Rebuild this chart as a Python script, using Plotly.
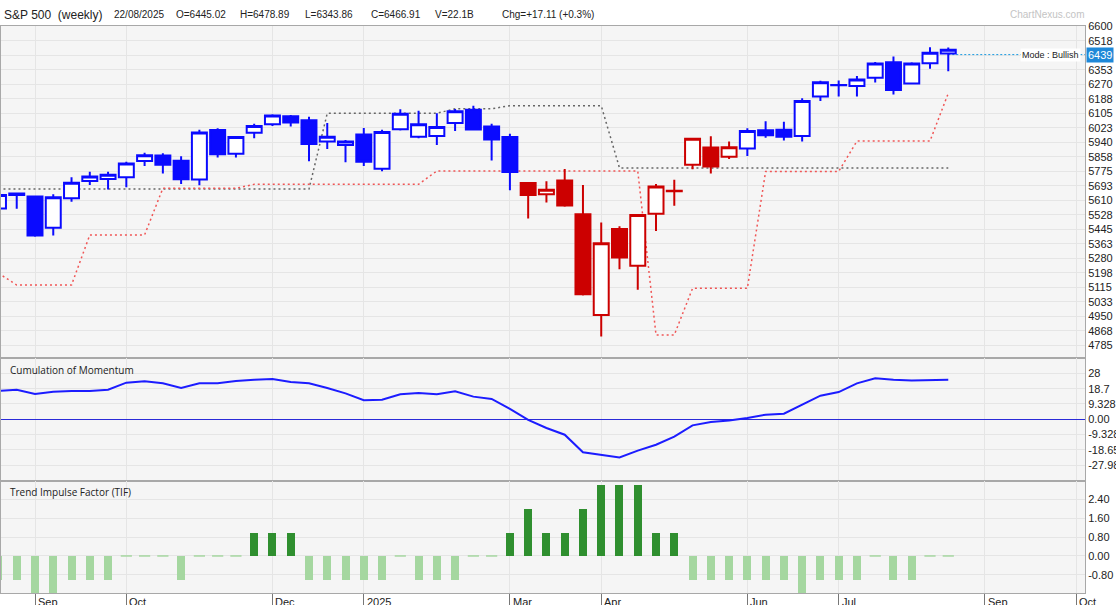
import plotly.graph_objects as go

# ---------------- data (weekly bars, dated by week start) ----------------
dates = ["2024-08-19", "2024-08-26", "2024-09-02", "2024-09-09", "2024-09-16", "2024-09-23", "2024-09-30",
         "2024-10-07", "2024-10-14", "2024-10-21", "2024-10-28", "2024-11-04", "2024-11-11", "2024-11-18", "2024-11-25",
         "2024-12-02", "2024-12-09", "2024-12-16", "2024-12-23", "2024-12-30", "2025-01-06", "2025-01-13", "2025-01-20",
         "2025-01-27", "2025-02-03", "2025-02-10", "2025-02-17", "2025-02-24", "2025-03-03", "2025-03-10", "2025-03-17",
         "2025-03-24", "2025-03-31", "2025-04-07", "2025-04-14", "2025-04-21", "2025-04-28", "2025-05-05", "2025-05-12",
         "2025-05-19", "2025-05-26", "2025-06-02", "2025-06-09", "2025-06-16", "2025-06-23", "2025-06-30", "2025-07-07",
         "2025-07-14", "2025-07-21", "2025-07-28", "2025-08-04", "2025-08-11", "2025-08-18"]

opens = [5564, 5640, 5631, 5454, 5621, 5720, 5731,
         5741, 5834, 5865, 5835, 5728, 6010, 5875, 5995,
         6043, 6088, 6065, 5944, 5925, 5985, 5790, 6014,
         5972, 5976, 6050, 6125, 6030, 5970, 5708, 5644,
         5722, 5530, 4958, 5447, 5238, 5533, 5662, 5812,
         5911, 5858, 5905, 6008, 6012, 5976, 6200, 6264,
         6260, 6307, 6396, 6275, 6390, 6445.02]
highs = [5648, 5652, 5633, 5644, 5741, 5773, 5773,
         5830, 5880, 5878, 5860, 6012, 6020, 5975, 6045,
         6100, 6095, 6085, 6050, 5953, 6021, 6012, 6128,
         6120, 6105, 6130, 6148, 6045, 5988, 5710, 5718,
         5788, 5697, 5484, 5462, 5530, 5703, 5727, 5966,
         5975, 5945, 6020, 6060, 6057, 6190, 6290, 6292,
         6317, 6397, 6428, 6395, 6481, 6478.89]
lows = [5550, 5562, 5403, 5409, 5602, 5697, 5672,
        5684, 5805, 5762, 5703, 5696, 5853, 5853, 5963,
        6033, 6030, 5832, 5902, 5826, 5805, 5775, 6007,
        5963, 5925, 6004, 6008, 5837, 5667, 5506, 5598,
        5573, 5069, 4835, 5218, 5101, 5435, 5579, 5786,
        5763, 5845, 5862, 5966, 5950, 5944, 6175, 6200,
        6201, 6280, 6212, 6272, 6358, 6343.86]
closes = [5640, 5648, 5410, 5627, 5710, 5745, 5756,
          5820, 5866, 5812, 5730, 5996, 5872, 5970, 6033,
          6092, 6052, 5931, 5971, 5944, 5830, 5998, 6103,
          6042, 6027, 6116, 6013, 5956, 5771, 5640, 5670,
          5580, 5075, 5366, 5284, 5527, 5688, 5665, 5960,
          5803, 5912, 6004, 5980, 5972, 6175, 6281, 6266,
          6297, 6389, 6238, 6389, 6450, 6466.91]

trend_mode = ["Bull", "Bull", "Bull", "Bull", "Bull", "Bull", "Bull",
              "Bull", "Bull", "Bull", "Bull", "Bull", "Bull", "Bull", "Bull",
              "Bull", "Bull", "Bull", "Bull", "Bull", "Bull", "Bull", "Bull",
              "Bull", "Bull", "Bull", "Bull", "Bull", "Bull", "Bear", "Bear",
              "Bear", "Bear", "Bear", "Bear", "Bear", "Bear", "Bear", "Bear",
              "Bear", "Bear", "Bull", "Bull", "Bull", "Bull", "Bull", "Bull",
              "Bull", "Bull", "Bull", "Bull", "Bull", "Bull"]

upper_level = [5674, 5674, 5674, 5674, 5674, 5674, 5674,
               5674, 5674, 5674, 5674, 5674, 5674, 5674, 5674,
               5674, 5674, 5674, 6105, 6105, 6105, 6105, 6105,
               6105, 6105, 6131, 6131, 6131, 6148, 6148, 6148,
               6148, 6148, 6148, 5794, 5794, 5794, 5794, 5794,
               5794, 5794, 5794, 5794, 5794, 5794, 5794, 5794,
               5794, 5794, 5794, 5794, 5794, 5794]
lower_level = [5195, 5128, 5128, 5128, 5128, 5413, 5413,
               5413, 5413, 5678, 5678, 5678, 5678, 5678, 5701,
               5701, 5701, 5701, 5701, 5701, 5701, 5701, 5701,
               5701, 5777, 5777, 5777, 5777, 5777, 5777, 5777,
               5777, 5777, 5777, 5777, 5777, 4844, 4844, 5109,
               5109, 5109, 5109, 5774, 5774, 5774, 5774, 5774,
               5947, 5947, 5947, 5947, 5947, 6219]

momentum = [17.2, 18.0, 15.4, 16.8, 17.2, 17.2, 18.0,
            22.3, 23.1, 21.9, 19.1, 21.9, 21.9, 23.3, 24.1,
            24.5, 22.7, 21.9, 19.1, 15.8, 11.6, 11.9, 15.2,
            16.0, 15.2, 17.0, 13.8, 12.4, 6.3, -0.3, -5.3,
            -9.4, -20.1, -21.7, -23.2, -19.1, -15.5, -10.6, -3.7,
            -1.6, -0.8, 0.8, 2.8, 3.4, 8.7, 14.4, 16.6,
            21.9, 25.0, 24.1, 23.7, 23.7, 24.1]

tif = [-1, -1, -2, -2, -1, -1, -1,
       0, 0, 0, -1, 0, 0, 0, 1,
       1, 1, -1, -1, -1, -1, -1, 0,
       -1, -1, -1, 0, 0, 1, 2, 1,
       1, 2, 3, 3, 3, 1, 1, -1,
       -1, -1, -1, -1, -1, -2, -1, -1,
       -1, 0, -1, -1, 0, 0]

month_ticks = ["2024-09-02", "2024-10-07", "2024-12-02", "2025-01-06", "2025-03-03",
               "2025-04-07", "2025-06-02", "2025-07-07", "2025-09-01", "2025-10-06"]
month_labels = ["Sep", "Oct", "Dec", "2025", "Mar", "Apr", "Jun", "Jul", "Sep", "Oct"]

price_ticks = [6600, 6517.5, 6435, 6352.5, 6270, 6187.5, 6105, 6022.5, 5940, 5857.5, 5775, 5692.5,
               5610, 5527.5, 5445, 5362.5, 5280, 5197.5, 5115, 5032.5, 4950, 4867.5, 4785]
price_tick_labels = ["6600", "6518", "", "6353", "6270", "6188", "6105", "6023", "5940", "5858", "5775", "5693",
                     "5610", "5528", "5445", "5363", "5280", "5198", "5115", "5033", "4950", "4868", "4785"]
mom_ticks = [27.985, 18.657, 9.328, 0, -9.328, -18.657, -27.985]
mom_tick_labels = ["28", "18.7", "9.328", "0.00", "-9.328", "-18.657", "-27.985"]
tif_ticks = [2.4, 1.6, 0.8, 0, -0.8]
tif_tick_labels = ["2.40", "1.60", "0.80", "0.00", "-0.80"]

mode_level = 6439
mode_text = "Mode : Bullish"
header_items = ["22/08/2025", "O=6445.02", "H=6478.89", "L=6343.86", "C=6466.91", "V=22.1B", "Chg=+17.11 (+0.3%)"]

# ---------------- styling / layout helpers ----------------
W, H = 1116, 605
ML, MR, MT, MB = 1, 31, 26, 12
PW, PH = W - ML - MR, H - MT - MB


def px_x(x):
    return (x - ML) / PW


def px_y(y):
    return (H - MB - y) / PH


BLUE = "#0a0aff"
RED = "#cc0000"
GRID = "#e5e5e5"
FRAME = "#a8a8a8"
X_RANGE = ["2024-08-19 23:17", "2025-10-09 09:36"]
MAIN_RANGE = [4711, 6601.7]
MOM_RANGE = [-37.4, 37.15]
TIF_RANGE = [-1.57, 3.19]
TICKFONT = dict(family="Liberation Sans, Arial", size=11, color="#222")

fig = go.Figure()

# indicator step lines (under the candles)
fig.add_trace(go.Scatter(x=dates, y=upper_level, mode="lines", xaxis="x", yaxis="y",
                         line=dict(color="#666666", width=1.5, dash="2px,3px"), hoverinfo="skip"))
fig.add_trace(go.Scatter(x=dates, y=lower_level, mode="lines", xaxis="x", yaxis="y",
                         line=dict(color="#f05555", width=1.5, dash="2px,3px"), hoverinfo="skip"))
# mode level line from the last bar to the right edge
fig.add_trace(go.Scatter(x=[dates[-1], X_RANGE[1]], y=[mode_level, mode_level], mode="lines",
                         xaxis="x", yaxis="y", line=dict(color="#1a9ae0", width=1, dash="2px,2px"),
                         hoverinfo="skip"))

# candles (on an overlaying axis so they sit above the dotted lines)
for mode_name, col in [("Bull", BLUE), ("Bear", RED)]:
    idx = [i for i, m in enumerate(trend_mode) if m == mode_name]
    fig.add_trace(go.Candlestick(
        x=[dates[i] for i in idx], open=[opens[i] for i in idx], high=[highs[i] for i in idx],
        low=[lows[i] for i in idx], close=[closes[i] for i in idx],
        increasing=dict(line=dict(color=col, width=2), fillcolor="white"),
        decreasing=dict(line=dict(color=col, width=2), fillcolor=col),
        whiskerwidth=0, xaxis="x", yaxis="y4", hoverinfo="skip"))

# momentum
fig.add_trace(go.Scatter(x=dates, y=momentum, mode="lines", xaxis="x2", yaxis="y2",
                         line=dict(color="#1c1cff", width=2), hoverinfo="skip"))

# TIF histogram
nz = [i for i, v in enumerate(tif) if v != 0]
fig.add_trace(go.Bar(x=[dates[i] for i in nz], y=[tif[i] for i in nz], xaxis="x3", yaxis="y3",
                     width=2.65e8,
                     marker=dict(color=["#2f8f2f" if tif[i] > 0 else "#a5d7a0" for i in nz], line=dict(width=0)),
                     hoverinfo="skip"))
zz = [i for i, v in enumerate(tif) if v == 0]
fig.add_trace(go.Scatter(x=[dates[i] for i in zz], y=[tif[i] for i in zz], mode="markers", xaxis="x3", yaxis="y3",
                         marker=dict(symbol="line-ew", size=8, line=dict(color="#a5d7a0", width=1.5)),
                         hoverinfo="skip"))

xcommon = dict(type="date", range=X_RANGE, tickvals=month_ticks, showticklabels=False,
               showgrid=True, gridcolor=GRID, gridwidth=1, showline=True, linecolor=FRAME,
               linewidth=1, mirror=True, zeroline=False, ticks="", fixedrange=True, automargin=False)
ycommon = dict(side="right", showgrid=True, gridcolor=GRID, gridwidth=1, showline=True, linecolor=FRAME,
               linewidth=1, mirror=True, ticks="", tickfont=TICKFONT, fixedrange=True, automargin=False)

d_main = [px_y(358.3), 1]
d_mom = [px_y(480.7), px_y(358.3)]
d_tif = [0, px_y(480.7)]

fig.update_layout(
    width=W, height=H, margin=dict(l=ML, r=MR, t=MT, b=MB, autoexpand=False),
    paper_bgcolor="white", plot_bgcolor="#f5f5f5", showlegend=False,
    boxgap=0.18, boxgroupgap=0, bargap=0,
    xaxis=dict(xcommon, anchor="y", rangeslider=dict(visible=False)),
    xaxis2=dict(xcommon, anchor="y2", matches="x"),
    xaxis3=dict(xcommon, anchor="y3", matches="x", ticks="outside", ticklen=12, tickcolor="#777", tickwidth=1),
    yaxis=dict(ycommon, domain=d_main, range=MAIN_RANGE, tickvals=price_ticks, ticktext=price_tick_labels,
               zeroline=False),
    yaxis4=dict(overlaying="y", side="right", range=MAIN_RANGE, showgrid=False, showticklabels=False,
                showline=False, zeroline=False, ticks="", fixedrange=True, automargin=False),
    yaxis2=dict(ycommon, domain=d_mom, anchor="x2", range=MOM_RANGE, tickvals=mom_ticks,
                ticktext=mom_tick_labels, zeroline=True, zerolinecolor="#2a2ad8", zerolinewidth=1),
    yaxis3=dict(ycommon, domain=d_tif, anchor="x3", range=TIF_RANGE, tickvals=tif_ticks,
                ticktext=tif_tick_labels, zeroline=False),
)

ann = []
# header
ann.append(dict(text="S&P 500\u00a0\u00a0(weekly)", x=px_x(2), y=px_y(15), xref="paper", yref="paper",
                xanchor="left", yanchor="middle", showarrow=False,
                font=dict(family="Liberation Sans, Arial", size=12, color="#222")))
header_x = [112, 174, 238, 303, 369, 433, 500]
for txt, hx in zip(header_items, header_x):
    ann.append(dict(text=txt, x=px_x(hx), y=px_y(15), xref="paper", yref="paper", xanchor="left",
                    yanchor="middle", showarrow=False,
                    font=dict(family="Liberation Sans, Arial", size=10, color="#222")))
ann.append(dict(text="ChartNexus.com", x=px_x(1086), y=px_y(15), xref="paper", yref="paper", xanchor="right",
                yanchor="middle", showarrow=False,
                font=dict(family="Liberation Sans, Arial", size=10, color="#c4c4c4")))
# panel titles
ann.append(dict(text="Cumulation of Momentum", x=px_x(8), y=px_y(370), xref="paper", yref="paper",
                xanchor="left", yanchor="middle", showarrow=False,
                font=dict(family="Open Sans", size=10, color="#222")))
ann.append(dict(text="Trend Impulse Factor (TIF)", x=px_x(8), y=px_y(492), xref="paper", yref="paper",
                xanchor="left", yanchor="middle", showarrow=False,
                font=dict(family="Open Sans", size=10, color="#222")))
# mode label & price box
ann.append(dict(text=mode_text, x=px_x(1081), y=mode_level, xref="paper", yref="y", xanchor="right",
                yanchor="middle", showarrow=False, bgcolor="white", borderpad=1,
                font=dict(family="Liberation Sans, Arial", size=9, color="#222")))
ann.append(dict(text=str(mode_level), x=px_x(1086), y=mode_level, xref="paper", yref="y", xanchor="left",
                yanchor="middle", showarrow=False, bgcolor="#1e88d8", borderpad=1,
                font=dict(family="Liberation Sans, Arial", size=11, color="white")))
# month labels
for d, lab in zip(month_ticks, month_labels):
    ann.append(dict(text=lab, x=d, y=px_y(593.5), xref="x3", yref="paper", xanchor="left", yanchor="top",
                    xshift=1, showarrow=False, font=dict(family="Liberation Sans, Arial", size=11, color="#222")))
fig.update_layout(annotations=ann)

fig.write_html("out.html", config={"displayModeBar": False},
               post_script="document.body.style.margin='0px';document.body.style.overflow='hidden';")
